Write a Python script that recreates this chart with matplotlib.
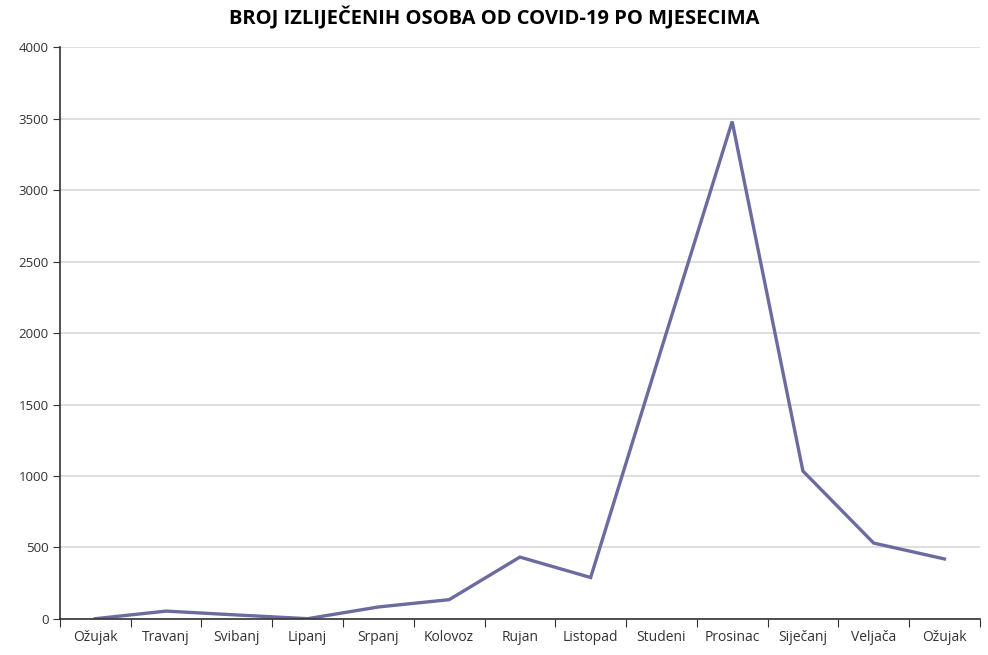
import numpy as np
import matplotlib.pyplot as plt

# mjeseci i broj izlijecenih
months = ['Ožujak', 'Travanj', 'Svibanj', 'Lipanj', 'Srpanj', 'Kolovoz', 'Rujan',
          'Listopad', 'Studeni', 'Prosinac', 'Siječanj', 'Veljača', 'Ožujak']
recovered = [2, 55, 28, 2, 84, 135, 433, 290, 1890, 3480, 1035, 531, 420]
yticks = [0, 500, 1000, 1500, 2000, 2500, 3000, 3500, 4000]

plt.rcParams['font.family'] = ['Open Sans', 'DejaVu Sans']

fig = plt.figure(figsize=(9.88, 6.55), dpi=100)
ax = fig.add_axes([0.0607, 0.055, 0.931, 0.873])

x = np.arange(len(months))
ax.plot(x, recovered, color='#6b6ba0', lw=2.4, solid_joinstyle='miter')

ax.set_xlim(-0.5, len(months) - 0.5)
ax.set_ylim(0, 4000)
ax.set_yticks(yticks)
ax.set_yticklabels([str(v) for v in yticks], fontsize=9.5, color='#333333')
ax.set_xticks(np.arange(len(months) + 1) - 0.5)
ax.set_xticklabels([])
ax.set_xticks(x, minor=True)
ax.set_xticklabels(months, minor=True, fontsize=10, color='#333333')
ax.tick_params(axis='x', which='minor', length=0, pad=8)
ax.tick_params(axis='x', which='major', length=6, color='#333333', direction='out')
ax.tick_params(axis='y', length=5, color='#333333', pad=3)

ax.grid(axis='y', color='#d9d9d9', lw=1.2)
ax.set_axisbelow(True)
for s in ['top', 'right']:
    ax.spines[s].set_visible(False)
for s in ['left', 'bottom']:
    ax.spines[s].set_color('#333333')
    ax.spines[s].set_linewidth(1.2)

fig.suptitle('BROJ IZLIJEČENIH OSOBA OD COVID-19 PO MJESECIMA', y=0.99,
             fontsize=14.5, fontweight='bold', family=['Open Sans', 'DejaVu Sans'])

fig.savefig('out.png', dpi=100)
